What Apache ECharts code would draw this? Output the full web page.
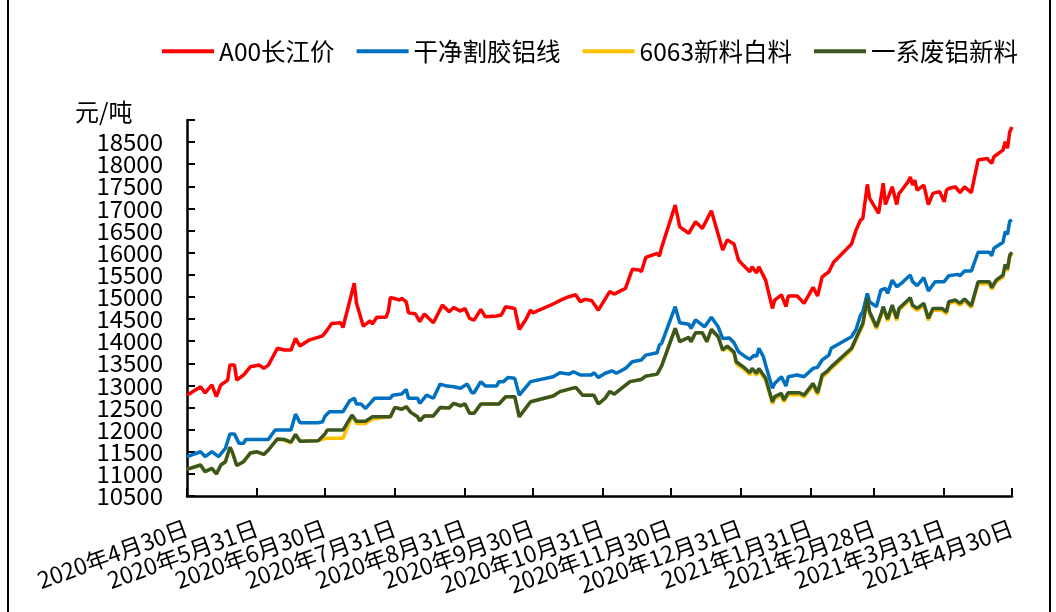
<!DOCTYPE html>
<html>
<head>
    <meta http-equiv="Content-Type" content="text/html; charset=utf-8">
    <title>铝价走势</title>
    <script src="https://cdn.jsdelivr.net/npm/echarts@6/dist/echarts.min.js"></script>
    <style>
        body {margin:0; background:#fff;}
    </style>
</head>
<body>
    <div id="main" style="width: 1056px;height:612px;"></div>
    <script type="text/javascript">
        // 月末刻度
        var tickDates = ['2020-04-30','2020-05-31','2020-06-30','2020-07-31','2020-08-31','2020-09-30','2020-10-31',
                         '2020-11-30','2020-12-31','2021-01-31','2021-02-28','2021-03-31','2021-04-30'];

        // A00长江价
        var redDates = ['2020-04-30','2020-05-06','2020-05-08','2020-05-11','2020-05-13','2020-05-15','2020-05-18','2020-05-19',
            '2020-05-21','2020-05-22','2020-05-25','2020-05-28','2020-06-01','2020-06-03','2020-06-05','2020-06-09','2020-06-12',
            '2020-06-15','2020-06-17','2020-06-19','2020-06-23','2020-06-29','2020-07-01','2020-07-03','2020-07-07','2020-07-08',
            '2020-07-13','2020-07-14','2020-07-17','2020-07-20','2020-07-21','2020-07-23','2020-07-27','2020-07-28','2020-07-29',
            '2020-08-02','2020-08-03','2020-08-05','2020-08-06','2020-08-09','2020-08-11','2020-08-13','2020-08-17','2020-08-21',
            '2020-08-24','2020-08-26','2020-08-29','2020-08-31','2020-09-02','2020-09-04','2020-09-07','2020-09-09','2020-09-14',
            '2020-09-16','2020-09-18','2020-09-22','2020-09-24','2020-09-27','2020-09-29','2020-09-30','2020-10-09','2020-10-13',
            '2020-10-16','2020-10-19','2020-10-21','2020-10-23','2020-10-26','2020-10-29','2020-11-03','2020-11-05','2020-11-10',
            '2020-11-13','2020-11-16','2020-11-17','2020-11-19','2020-11-24','2020-11-25','2020-11-26','2020-12-02','2020-12-04',
            '2020-12-08','2020-12-11','2020-12-14','2020-12-18','2020-12-23','2020-12-25','2020-12-28','2020-12-30','2021-01-01',
            '2021-01-04','2021-01-05','2021-01-07','2021-01-08','2021-01-11','2021-01-14','2021-01-15','2021-01-18','2021-01-20',
            '2021-01-21','2021-01-25','2021-01-28','2021-02-01','2021-02-03','2021-02-05','2021-02-08','2021-02-10','2021-02-18',
            '2021-02-20','2021-02-22','2021-02-23','2021-02-25','2021-02-26','2021-03-02','2021-03-04','2021-03-05','2021-03-08',
            '2021-03-10','2021-03-11','2021-03-12','2021-03-15','2021-03-16','2021-03-17','2021-03-18','2021-03-19','2021-03-22',
            '2021-03-24','2021-03-26','2021-03-29','2021-03-31','2021-04-01','2021-04-02','2021-04-05','2021-04-07','2021-04-09',
            '2021-04-12','2021-04-15','2021-04-19','2021-04-21','2021-04-22','2021-04-26','2021-04-27','2021-04-28','2021-04-29',
            '2021-04-30'];
        var redValues = [12780,12970,12830,13010,12745,13010,13120,13460,
            13460,13120,13235,13420,13460,13385,13460,13840,13800,
            13800,14065,13890,14025,14120,14250,14400,14415,14310,
            15310,14855,14340,14460,14390,14540,14540,14665,14990,
            14930,14970,14890,14640,14620,14440,14615,14415,14815,
            14665,14760,14680,14740,14515,14475,14720,14550,14570,
            14590,14780,14740,14265,14495,14705,14640,14840,14945,
            15005,15050,14890,14945,14920,14700,15120,15065,15195,
            15625,15610,15570,15895,15985,15925,16120,17075,16585,
            16440,16700,16550,16950,16060,16290,16195,15835,15720,
            15570,15680,15545,15680,15380,14740,14930,15045,14780,
            15020,15020,14855,15215,15020,15455,15570,15780,16195,
            16510,16740,16775,17545,17230,16890,17570,17090,17490,
            17090,17340,17400,17600,17715,17530,17640,17415,17530,
            17090,17340,17380,17150,17415,17450,17490,17360,17490,
            17360,18095,18130,18020,18170,18320,18510,18360,18735,
            18840];

        // 干净割胶铝线
        var blueDates = ['2020-04-30','2020-05-06','2020-05-08','2020-05-11','2020-05-14','2020-05-17','2020-05-19','2020-05-21',
            '2020-05-23','2020-05-25','2020-05-26','2020-06-05','2020-06-08','2020-06-15','2020-06-17','2020-06-19','2020-06-27',
            '2020-06-29','2020-06-30','2020-07-02','2020-07-08','2020-07-11','2020-07-13','2020-07-14','2020-07-16','2020-07-18',
            '2020-07-20','2020-07-22','2020-07-29','2020-07-30','2020-08-03','2020-08-05','2020-08-06','2020-08-10','2020-08-11',
            '2020-08-14','2020-08-17','2020-08-20','2020-08-23','2020-08-26','2020-08-29','2020-09-01','2020-09-03','2020-09-04',
            '2020-09-07','2020-09-09','2020-09-14','2020-09-15','2020-09-17','2020-09-19','2020-09-22','2020-09-24','2020-09-29',
            '2020-10-09','2020-10-12','2020-10-16','2020-10-18','2020-10-21','2020-10-26','2020-10-27','2020-10-29','2020-11-01',
            '2020-11-04','2020-11-06','2020-11-10','2020-11-13','2020-11-17','2020-11-19','2020-11-24','2020-11-25','2020-11-26',
            '2020-12-02','2020-12-04','2020-12-08','2020-12-09','2020-12-11','2020-12-15','2020-12-18','2020-12-21','2020-12-23',
            '2020-12-26','2020-12-28','2020-12-30','2021-01-02','2021-01-04','2021-01-06','2021-01-07','2021-01-08','2021-01-10',
            '2021-01-11','2021-01-14','2021-01-15','2021-01-18','2021-01-20','2021-01-21','2021-01-25','2021-01-28','2021-02-01',
            '2021-02-03','2021-02-05','2021-02-08','2021-02-09','2021-02-18','2021-02-20','2021-02-22','2021-02-23','2021-02-25',
            '2021-02-26','2021-03-01','2021-03-03','2021-03-05','2021-03-06','2021-03-08','2021-03-10','2021-03-12','2021-03-16',
            '2021-03-17','2021-03-19','2021-03-22','2021-03-24','2021-03-27','2021-03-31','2021-04-02','2021-04-06','2021-04-07',
            '2021-04-09','2021-04-12','2021-04-15','2021-04-20','2021-04-21','2021-04-22','2021-04-26','2021-04-27','2021-04-28',
            '2021-04-29','2021-04-30'];
        var blueValues = [11390,11500,11390,11500,11390,11580,11900,11900,
            11690,11690,11780,11780,11990,11990,12350,12155,12155,
            12180,12300,12405,12405,12655,12710,12580,12580,12480,
            12595,12710,12710,12780,12805,12910,12710,12710,12595,
            12780,12710,13030,12985,12970,12935,13030,12835,12835,
            13085,12985,12985,13085,13085,13180,13160,12780,13085,
            13195,13285,13255,13310,13235,13235,13290,13180,13275,
            13330,13275,13385,13535,13575,13685,13740,13915,13950,
            14780,14415,14385,14290,14480,14325,14540,14325,14060,
            14070,13965,13760,13650,13590,13685,13650,13840,13650,
            13460,12935,13045,13195,12985,13195,13235,13195,13385,
            13410,13575,13685,13840,14100,14265,14590,14665,15080,
            14890,14780,15155,15195,15080,15380,15230,15305,15495,
            15345,15255,15435,15135,15345,15345,15480,15510,15480,
            15585,15585,16010,16010,15930,16100,16235,16475,16415,
            16715,16740];

        // 6063新料白料 / 一系废铝新料
        var scrapDates = ['2020-04-30','2020-05-06','2020-05-08','2020-05-11','2020-05-13','2020-05-15','2020-05-17','2020-05-19',
            '2020-05-20','2020-05-22','2020-05-25','2020-05-28','2020-05-31','2020-06-03','2020-06-05','2020-06-09','2020-06-12',
            '2020-06-15','2020-06-17','2020-06-19','2020-06-27','2020-06-30','2020-07-01','2020-07-08','2020-07-12','2020-07-14',
            '2020-07-18','2020-07-21','2020-07-29','2020-07-31','2020-08-03','2020-08-05','2020-08-07','2020-08-10','2020-08-11',
            '2020-08-13','2020-08-17','2020-08-20','2020-08-24','2020-08-26','2020-08-29','2020-08-31','2020-09-02','2020-09-04',
            '2020-09-07','2020-09-15','2020-09-18','2020-09-22','2020-09-24','2020-09-29','2020-10-09','2020-10-12','2020-10-19',
            '2020-10-22','2020-10-27','2020-10-29','2020-11-01','2020-11-03','2020-11-05','2020-11-12','2020-11-17','2020-11-19',
            '2020-11-24','2020-11-26','2020-12-02','2020-12-04','2020-12-08','2020-12-09','2020-12-11','2020-12-14','2020-12-16',
            '2020-12-18','2020-12-21','2020-12-23','2020-12-25','2020-12-28','2020-12-29','2021-01-02','2021-01-04','2021-01-05',
            '2021-01-07','2021-01-08','2021-01-11','2021-01-14','2021-01-15','2021-01-18','2021-01-19','2021-01-21','2021-01-26',
            '2021-01-28','2021-02-01','2021-02-03','2021-02-05','2021-02-07','2021-02-09','2021-02-18','2021-02-21','2021-02-23',
            '2021-02-25','2021-02-26','2021-03-01','2021-03-03','2021-03-04','2021-03-06','2021-03-08','2021-03-10','2021-03-11',
            '2021-03-16','2021-03-17','2021-03-19','2021-03-22','2021-03-24','2021-03-26','2021-03-30','2021-04-01','2021-04-02',
            '2021-04-05','2021-04-07','2021-04-09','2021-04-12','2021-04-15','2021-04-20','2021-04-21','2021-04-23','2021-04-26',
            '2021-04-27','2021-04-28','2021-04-29','2021-04-30'];
        var whiteValues = [11100,11200,11050,11125,11000,11200,11275,11600,
            11500,11190,11275,11470,11500,11440,11540,11790,11760,
            11700,11890,11740,11750,11800,11805,11805,12300,12140,
            12140,12240,12290,12505,12460,12520,12390,12290,12200,
            12310,12310,12500,12490,12595,12540,12580,12370,12370,
            12580,12580,12745,12745,12290,12630,12760,12860,12955,
            12780,12780,12580,12710,12860,12805,13085,13135,13210,
            13255,13440,14290,13990,14085,13990,14190,14190,13990,
            14265,14100,13790,13860,13720,13490,13340,13240,13340,
            13230,13340,13120,12585,12700,12780,12625,12790,12790,
            12740,13000,12790,13190,13265,13380,13800,14140,14360,
            14930,14620,14280,14560,14740,14455,14770,14470,14700,
            14940,14770,14695,14810,14470,14700,14700,14620,14850,
            14890,14810,14910,14760,15300,15300,15170,15340,15450,
            15690,15590,15900,15970];
        var greenValues = [11100,11200,11050,11125,11000,11200,11275,11600,
            11500,11190,11275,11470,11500,11440,11540,11790,11780,
            11720,11890,11740,11750,11900,11990,11990,12330,12190,
            12190,12290,12290,12505,12460,12520,12390,12290,12200,
            12310,12310,12500,12490,12595,12540,12580,12370,12370,
            12580,12580,12745,12745,12290,12630,12760,12860,12955,
            12780,12780,12580,12710,12860,12805,13085,13135,13210,
            13255,13440,14290,13990,14085,13990,14190,14190,13990,
            14265,14100,13800,13890,13760,13535,13385,13285,13385,
            13275,13385,13160,12630,12745,12820,12670,12835,12835,
            12780,13045,12835,13235,13310,13420,13840,14180,14400,
            14970,14665,14325,14605,14780,14500,14815,14515,14740,
            14980,14815,14740,14855,14515,14740,14740,14665,14890,
            14930,14855,14955,14800,15345,15345,15210,15380,15495,
            15735,15630,15945,16010];

        // 日期字符串 -> 本地时间戳
        function toTime(s) {
            var p = s.split('-');
            return new Date(+p[0], +p[1] - 1, +p[2]).getTime();
        }
        function pairs(dates, values) {
            return dates.map(function (d, i) { return [toTime(d), values[i]]; });
        }

        var font = 'Noto Sans CJK SC';
        var yMin = 10500, yMax = 19000;
        var myChart = echarts.init(document.getElementById('main'));

        function makeLine(name, color, data) {
            return {
                name: name, type: 'line', data: data,
                symbol: 'none', showSymbol: false,
                lineStyle: {color: color, width: 3.5},
                itemStyle: {color: color}
            };
        }

        var tickTimes = tickDates.map(toTime);
        var yLabelStyle = {margin: 24, fontFamily: font, fontSize: 24, lineHeight: 14, color: '#000', hideOverlap: false};

        var option = {
            animation: false,
            backgroundColor: '#fff',
            legend: {
                right: 38, top: 39, padding: 0,
                icon: 'rect', itemWidth: 52, itemHeight: 4, itemGap: 22,
                textStyle: {fontFamily: font, fontSize: 24.5, color: '#000'},
                data: ['A00长江价', '干净割胶铝线', '6063新料白料', '一系废铝新料']
            },
            grid: {left: 187, right: 44, top: 120, bottom: 116, containLabel: false},
            xAxis: {
                type: 'value',
                min: tickTimes[0], max: tickTimes[tickTimes.length - 1],
                splitLine: {show: false},
                axisLine: {lineStyle: {color: '#000', width: 2.5}},
                axisTick: {inside: true, length: 8, lineStyle: {color: '#000', width: 2}, customValues: tickTimes},
                axisLabel: {
                    customValues: tickTimes,
                    rotate: 20, margin: 31, hideOverlap: false,
                    fontFamily: font, fontSize: 23, lineHeight: 14, color: '#000',
                    formatter: function (v) {
                        var d = new Date(v);
                        return d.getFullYear() + '年' + (d.getMonth() + 1) + '月' + d.getDate() + '日';
                    }
                }
            },
            yAxis: [{
                type: 'value',
                min: yMin, max: yMax, interval: 500,
                splitLine: {show: false},
                axisLine: {show: true, lineStyle: {color: '#000', width: 2.5}},
                axisTick: {show: true, inside: true, length: 8, lineStyle: {color: '#000', width: 2}},
                axisLabel: Object.assign({}, yLabelStyle, {
                    formatter: function (v) { return (v <= yMin || v >= yMax) ? '' : String(v); }
                })
            }, {
                // 只显示最底部的 10500
                type: 'value', position: 'left',
                min: yMin, max: yMax, interval: 500,
                splitLine: {show: false}, axisLine: {show: false}, axisTick: {show: false},
                axisLabel: Object.assign({}, yLabelStyle, {
                    showMinLabel: true,
                    formatter: function (v) { return v === yMin ? String(v) : ''; }
                })
            }],
            graphic: [
                {type: 'text', left: 75, top: 100, style: {text: '元/吨', font: '24px "Noto Sans CJK SC"', fill: '#000'}},
                {type: 'rect', shape: {x: 8, y: -5, width: 1042, height: 630}, style: {fill: 'none', stroke: '#000', lineWidth: 2}}
            ],
            series: [
                makeLine('A00长江价', '#FF0000', pairs(redDates, redValues)),
                makeLine('干净割胶铝线', '#0070C0', pairs(blueDates, blueValues)),
                makeLine('6063新料白料', '#FFC000', pairs(scrapDates, whiteValues)),
                makeLine('一系废铝新料', '#385723', pairs(scrapDates, greenValues))
            ]
        };

        myChart.setOption(option);
    </script>
</body>
</html>
